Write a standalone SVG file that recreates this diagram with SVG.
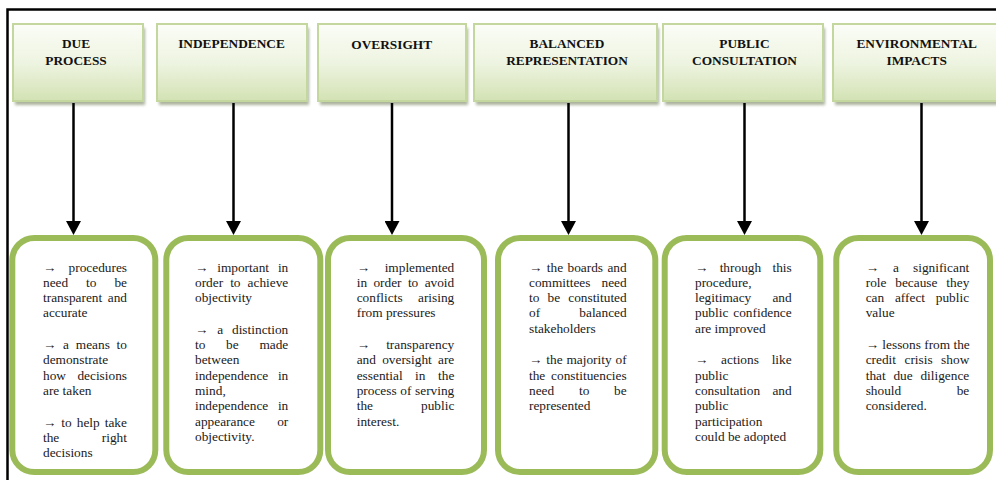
<svg xmlns="http://www.w3.org/2000/svg" width="996" height="480" viewBox="0 0 996 480">
<style>
.lbl{font-family:"Liberation Serif","Times New Roman",serif;font-weight:bold;font-size:13.33px;text-anchor:middle;fill:#111}
.t{font-family:"Liberation Serif","Times New Roman",serif;font-size:13.33px;fill:#1a1a1a}
.top{fill:url(#gg);stroke:#c4d79f;stroke-width:2}
.sh{fill:#8f9a7c;opacity:0.75;filter:url(#blur)}
.bot{fill:#fff;stroke:#9bbb59;stroke-width:6}
.conn line{stroke:#000;stroke-width:2.5}
.frame{stroke:#000;stroke-width:2.5;fill:none}
</style>
<defs>
<linearGradient id="gg" x1="0" y1="0" x2="0" y2="1">
<stop offset="0" stop-color="#fbfdf7"/>
<stop offset="0.5" stop-color="#eef4e1"/>
<stop offset="1" stop-color="#d3e2b4"/>
</linearGradient>
<filter id="blur" x="-10%" y="-10%" width="120%" height="130%"><feGaussianBlur stdDeviation="1.5"/></filter>
<marker id="ah" viewBox="0 0 14 15" refX="1" refY="7.5" markerWidth="14" markerHeight="15" markerUnits="userSpaceOnUse" orient="auto">
<path d="M0,0 L14,7.5 L0,15 z" fill="#000"/>
</marker>
</defs>
<rect width="996" height="480" fill="#fff"/>
<path class="frame" d="M7.5,480 V9.5 H996"/>

<g id="top-due-process">
<rect class="sh" x="15" y="28" width="130" height="77"/>
<rect class="top" x="13" y="24" width="130" height="77"/>
<text class="lbl" x="76" y="48">DUE</text>
<text class="lbl" x="76" y="64.5">PROCESS</text>
</g>
<g id="top-independence">
<rect class="sh" x="159" y="28" width="150" height="77"/>
<rect class="top" x="157" y="24" width="150" height="77"/>
<text class="lbl" x="231.5" y="48">INDEPENDENCE</text>
</g>
<g id="top-oversight">
<rect class="sh" x="320" y="28" width="148" height="77"/>
<rect class="top" x="318" y="24" width="148" height="77"/>
<text class="lbl" x="391.7" y="49">OVERSIGHT</text>
</g>
<g id="top-balanced-representation">
<rect class="sh" x="476" y="28" width="183" height="77"/>
<rect class="top" x="474" y="24" width="183" height="77"/>
<text class="lbl" x="567" y="48">BALANCED</text>
<text class="lbl" x="567" y="65">REPRESENTATION</text>
</g>
<g id="top-public-consultation">
<rect class="sh" x="665" y="28" width="160" height="77"/>
<rect class="top" x="663" y="24" width="160" height="77"/>
<text class="lbl" x="744.5" y="48">PUBLIC</text>
<text class="lbl" x="744.5" y="65">CONSULTATION</text>
</g>
<g id="top-environmental-impacts">
<rect class="sh" x="835" y="28" width="170" height="77"/>
<rect class="top" x="833" y="24" width="170" height="77"/>
<text class="lbl" x="916.7" y="48">ENVIRONMENTAL</text>
<text class="lbl" x="916.7" y="65">IMPACTS</text>
</g>

<g id="connectors" class="conn">
<line x1="73.5" y1="103" x2="73.5" y2="222" marker-end="url(#ah)"/>
<line x1="233.5" y1="103" x2="233.5" y2="222" marker-end="url(#ah)"/>
<line x1="392" y1="103" x2="392" y2="222" marker-end="url(#ah)"/>
<line x1="568.5" y1="103" x2="568.5" y2="222" marker-end="url(#ah)"/>
<line x1="744.5" y1="103" x2="744.5" y2="222" marker-end="url(#ah)"/>
<line x1="921.5" y1="103" x2="921.5" y2="222" marker-end="url(#ah)"/>
</g>

<g id="box-due-process">
<rect class="bot" x="12.3" y="238" width="143" height="234" rx="22"/>
<text class="t" x="43" y="271.5" word-spacing="8.9">→ procedures</text>
<text class="t" x="43" y="286.8" word-spacing="14.6">need to be</text>
<text class="t" x="43" y="302.1" word-spacing="2.2">transparent and</text>
<text class="t" x="43" y="317.4">accurate</text>
<text class="t" x="43" y="349" word-spacing="3.43">→ a means to</text>
<text class="t" x="43" y="364.3">demonstrate</text>
<text class="t" x="43" y="379.6" word-spacing="8.1">how decisions</text>
<text class="t" x="43" y="394.9">are taken</text>
<text class="t" x="43" y="426.5" word-spacing="1.7">→ to help take</text>
<text class="t" x="43" y="441.8" word-spacing="39.2">the right</text>
<text class="t" x="43" y="457.1">decisions</text>
</g>

<g id="box-independence">
<rect class="bot" x="166.3" y="238" width="154" height="234" rx="22"/>
<text class="t" x="195" y="271.5" word-spacing="5.55">→ important in</text>
<text class="t" x="195" y="286.8" word-spacing="3.7">order to achieve</text>
<text class="t" x="195" y="302.1">objectivity</text>
<text class="t" x="195" y="333.7" word-spacing="5.55">→ a distinction</text>
<text class="t" x="195" y="349" word-spacing="17.4">to be made</text>
<text class="t" x="195" y="364.3">between</text>
<text class="t" x="195" y="379.6" word-spacing="6.3">independence in</text>
<text class="t" x="195" y="394.9">mind,</text>
<text class="t" x="195" y="410.2" word-spacing="6.3">independence in</text>
<text class="t" x="195" y="425.5" word-spacing="18.9">appearance or</text>
<text class="t" x="195" y="440.8">objectivity.</text>
</g>

<g id="box-oversight">
<rect class="bot" x="328" y="238" width="156" height="234" rx="22"/>
<text class="t" x="356.7" y="271.5" word-spacing="11.3">→ implemented</text>
<text class="t" x="356.7" y="286.8" word-spacing="3.03">in order to avoid</text>
<text class="t" x="356.7" y="302.1" word-spacing="12.1">conflicts arising</text>
<text class="t" x="356.7" y="317.4">from pressures</text>
<text class="t" x="356.7" y="349" word-spacing="12.8">→ transparency</text>
<text class="t" x="356.7" y="364.3" word-spacing="2.9">and oversight are</text>
<text class="t" x="356.7" y="379.6" word-spacing="9.2">essential in the</text>
<text class="t" x="356.7" y="394.9" word-spacing="0.3">process of serving</text>
<text class="t" x="356.7" y="410.2" word-spacing="44.7">the public</text>
<text class="t" x="356.7" y="425.5">interest.</text>
</g>

<g id="box-balanced-representation">
<rect class="bot" x="498" y="238" width="157.3" height="234" rx="22"/>
<text class="t" x="529" y="271.5" word-spacing="1.1">→ the boards and</text>
<text class="t" x="529" y="286.8" word-spacing="7.7">committees need</text>
<text class="t" x="529" y="302.1" word-spacing="4.8">to be constituted</text>
<text class="t" x="529" y="317.4" word-spacing="35.9">of balanced</text>
<text class="t" x="529" y="332.7">stakeholders</text>
<text class="t" x="529" y="364.3" word-spacing="0.6">→ the majority of</text>
<text class="t" x="529" y="379.6" word-spacing="2.5">the constituencies</text>
<text class="t" x="529" y="394.9" word-spacing="21.45">need to be</text>
<text class="t" x="529" y="410.2">represented</text>
</g>

<g id="box-public-consultation">
<rect class="bot" x="664.7" y="238" width="155.6" height="234" rx="22"/>
<text class="t" x="695" y="271.5" word-spacing="8">→ through this</text>
<text class="t" x="695" y="286.8">procedure,</text>
<text class="t" x="695" y="302.1" word-spacing="17.8">legitimacy and</text>
<text class="t" x="695" y="317.4" word-spacing="1.6">public confidence</text>
<text class="t" x="695" y="332.7">are improved</text>
<text class="t" x="695" y="364.3" word-spacing="9.45">→ actions like</text>
<text class="t" x="695" y="379.6">public</text>
<text class="t" x="695" y="394.9" word-spacing="8.9">consultation and</text>
<text class="t" x="695" y="410.2">public</text>
<text class="t" x="695" y="425.5">participation</text>
<text class="t" x="695" y="440.8">could be adopted</text>
</g>

<g id="box-environmental-impacts">
<rect class="bot" x="836.3" y="238" width="153.7" height="234" rx="22"/>
<text class="t" x="865.7" y="271.5" word-spacing="10.7">→ a significant</text>
<text class="t" x="865.7" y="286.8" word-spacing="5.55">role because they</text>
<text class="t" x="865.7" y="302.1" word-spacing="7.4">can affect public</text>
<text class="t" x="865.7" y="317.4">value</text>
<text class="t" x="865.7" y="349">→ lessons from the</text>
<text class="t" x="865.7" y="364.3" word-spacing="5.15">credit crisis show</text>
<text class="t" x="865.7" y="379.6" word-spacing="4.4">that due diligence</text>
<text class="t" x="865.7" y="394.9" word-spacing="52.1">should be</text>
<text class="t" x="865.7" y="410.2">considered.</text>
</g>
</svg>
